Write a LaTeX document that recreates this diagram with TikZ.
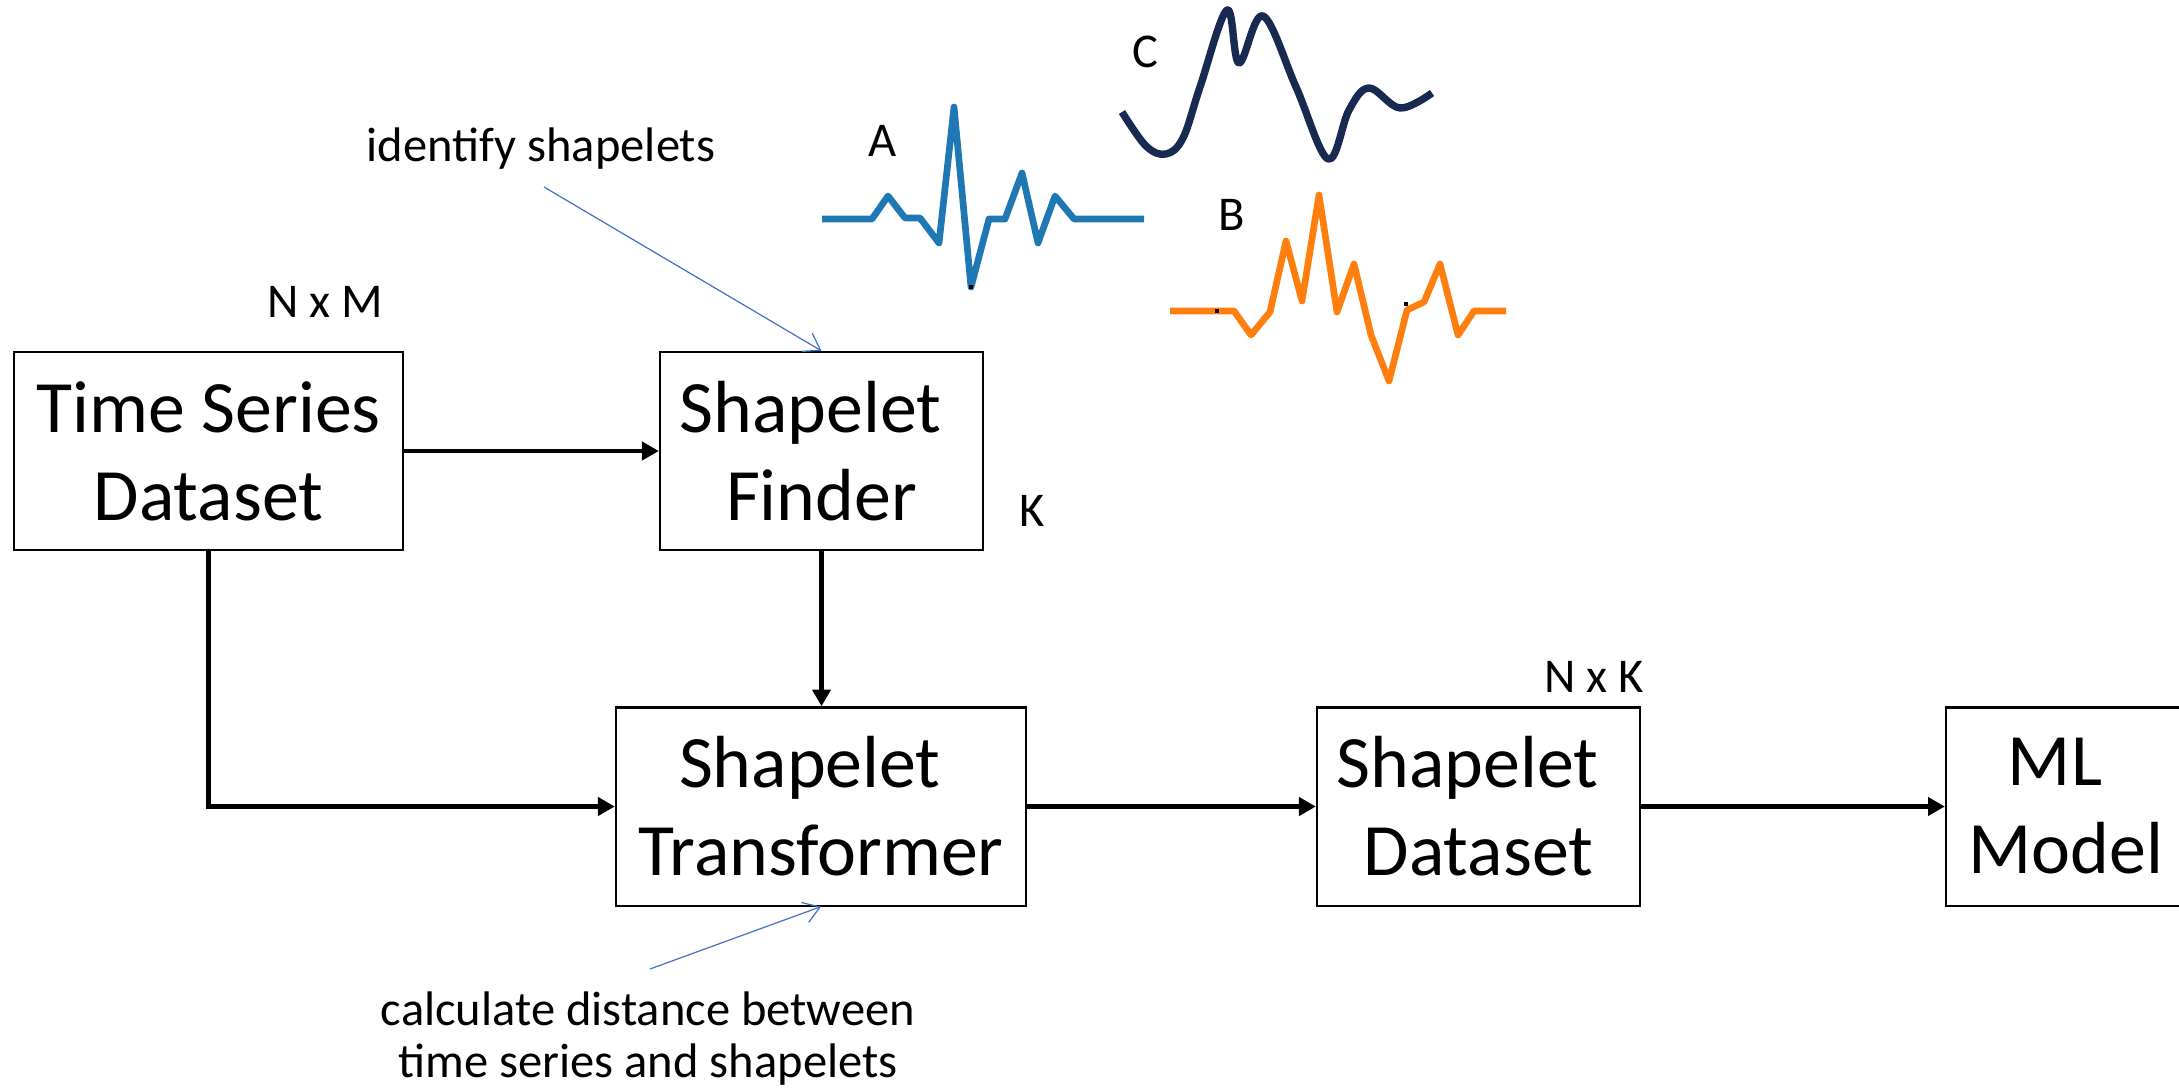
\documentclass[tikz,border=0pt]{standalone}
\usepackage{fontspec}
\setmainfont{Carlito}
\usepackage{xcolor}
\definecolor{noteblue}{RGB}{68,114,196}
\definecolor{seriesA}{RGB}{31,119,180}
\definecolor{seriesB}{RGB}{255,127,14}
\definecolor{seriesC}{RGB}{24,42,82}
\usepackage{tikz}
\usetikzlibrary{
    arrows.meta,
    calc
}
\tikzset{
    stagebox/.style = {rectangle, draw=black, line width=0.6pt, fill=white,
                       align=center, inner sep=0pt, minimum height=1.98cm,
                       font=\fontsize{21}{25}\selectfont},
    smalltxt/.style = {inner sep=0pt, align=center,
                       font=\fontsize{13.8}{15}\selectfont},
    flowArr/.style  = {-{Triangle[length=4.8pt,width=5.1pt]}, line width=1.4pt},
    noteArr/.style  = {-{Straight Barb[length=4.5pt,width=6pt]},
                       line width=0.35pt, draw=noteblue},
    wave/.style     = {line width=1.9pt, line join=round}
}
% trailing space as the slide text has it
\newcommand{\tsp}{\kern0.3em}

\begin{document}
\begin{tikzpicture}[x=0.01cm, y=-0.01cm]
\useasboundingbox (0,0) rectangle (2179,1088);

% ===== Pipeline blocks =====
\node[stagebox, minimum width=3.89cm] (ts) at (208.5,451)
   {Time Series\\Dataset};
\node[stagebox, minimum width=3.23cm] (finder) at (821.5,451)
   {Shapelet\tsp\\Finder};
\node[stagebox, minimum width=4.10cm] (trans) at (821,806.5)
   {Shapelet\tsp\\Transformer};
\node[stagebox, minimum width=3.23cm] (sdata) at (1478.5,806.5)
   {Shapelet\tsp\\Dataset};
\node[stagebox, minimum width=2.40cm] (ml) at (2066,806.5)
   {ML\tsp\\Model};

% ===== Flow arrows =====
\draw[flowArr] (ts.east) -- (finder.west);
\draw[flowArr] (finder.south) -- (finder.south |- trans.north);
\draw[flowArr] (ts.south) |- (trans.west);
\draw[flowArr] (trans.east) -- (sdata.west);
\draw[flowArr] (sdata.east) -- (ml.west);

% ===== Sizes =====
\node[smalltxt] (nm) at (325,302) {N x M};
\node[smalltxt] (kk) at (1032,511) {K};
\node[smalltxt] (nk) at (1594,677) {N x K};

% ===== Annotations =====
\node[smalltxt, anchor=base] (identify) at (541,162) {identify shapelets};
\coordinate (idfoot) at (544,187);
\draw[noteArr] (idfoot) -- (finder.north);

\node[smalltxt, anchor=base] (calc1) at (648,1025)
   {calculate distance between};
\node[smalltxt, anchor=base] (calc2) at (648,1077)
   {time series and shapelets};
\coordinate (calcfoot) at (650,969);
\draw[noteArr] (calcfoot) -- (trans.south);

% ===== Shapelets =====
\node[smalltxt] (labA) at (883,141) {A};
\node[smalltxt] (labB) at (1232,215) {B};
\node[smalltxt] (labC) at (1145,52) {C};

\draw[wave, seriesA] (822,219) -- (872,219) -- (888,196) -- (905,218)
   -- (920,218) -- (939,243) -- (954,107) -- (971,287) -- (989,219)
   -- (1005,219) -- (1022,173) -- (1038,243) -- (1055,196) -- (1074,219)
   -- (1144,219);

\draw[wave, seriesB] (1170,311) -- (1234,311) -- (1251,335) -- (1270,312)
   -- (1286,241) -- (1302,301) -- (1319,195) -- (1337,312) -- (1354,264)
   -- (1371,335) -- (1389,381) -- (1407,310) -- (1424,302) -- (1440,264)
   -- (1458,335) -- (1474,311) -- (1506,311);

\draw[wave, seriesC, line width=2.1pt] plot[smooth, tension=0.6] coordinates {
   (1122,112) (1146,146) (1166,154) (1183,138) (1200,87) (1227,10)
   (1239,63) (1263,16) (1296,87) (1328,159) (1349,110) (1369,88)
   (1400,108) (1432,93)};

% small markers
\fill (969,285) rectangle (973,289);
\fill (1215,309) rectangle (1219,313);
\fill (1404,302) rectangle (1408,306);

\end{tikzpicture}
\end{document}
